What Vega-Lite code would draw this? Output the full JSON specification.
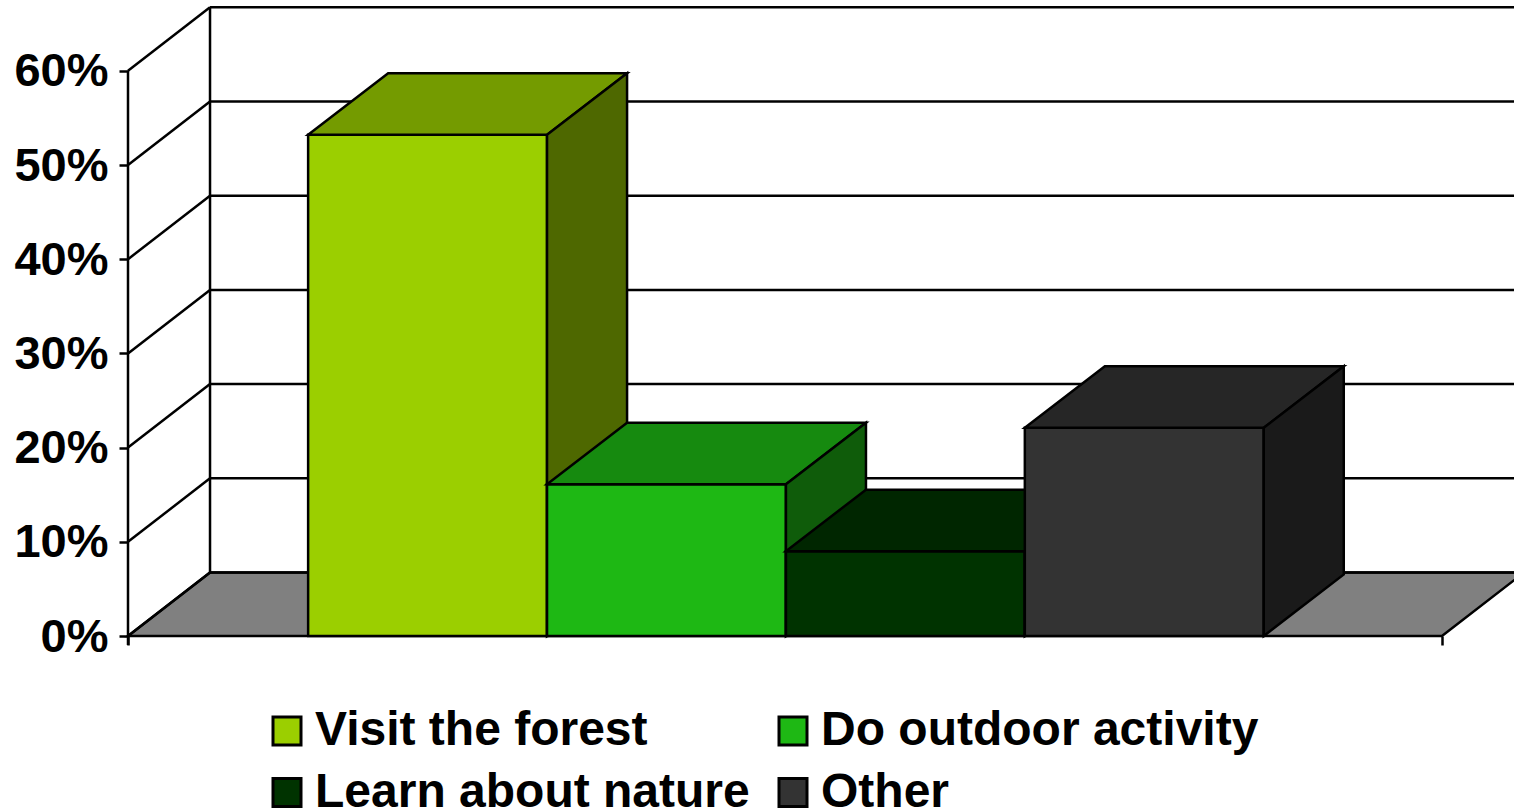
{
  "$schema": "https://vega.github.io/schema/vega-lite/v6.json",
  "width": 1514,
  "height": 809,
  "padding": 0,
  "autosize": {"type": "none"},
  "background": "white",
  "config": {
    "view": {"stroke": null},
    "font": "Liberation Sans"
  },
  "datasets": {
    "bars": [
      {"category": "Visit the forest", "value": 53.2},
      {"category": "Do outdoor activity", "value": 16.1},
      {"category": "Learn about nature", "value": 9.0},
      {"category": "Other", "value": 22.1}
    ],
    "ticks": [
      {"percent": 0}, {"percent": 10}, {"percent": 20}, {"percent": 30},
      {"percent": 40}, {"percent": 50}, {"percent": 60}
    ]
  },
  "layer": [
    {
      "data": {"name": "ticks"},
      "transform": [
        {"filter": "datum.percent === 0"},
        {"calculate": "[0, 5.5, 5.8433, 0.3433]", "as": "vx"},
        {"calculate": "[0, 0, 6.74, 6.74]", "as": "vy"},
        {"calculate": "[0, 1, 2, 3]", "as": "vi"},
        {"flatten": ["vx", "vy", "vi"]}
      ],
      "mark": {"type": "line", "interpolate": "linear-closed", "fill": "#808080", "stroke": "black", "strokeWidth": 2.5, "clip": true},
      "encoding": {
        "x": {
          "field": "vx", "type": "quantitative", "title": null,
          "scale": {"domain": [-0.5358, 5.8016], "nice": false, "zero": false},
          "axis": {"values": [0, 5.5], "labels": false, "domain": false, "grid": false, "tickSize": 9, "tickWidth": 2.5, "tickColor": "black", "offset": -173}
        },
        "y": {
          "field": "vy", "type": "quantitative", "title": null,
          "scale": {"domain": [-18.365, 67.516], "nice": false, "zero": false},
          "axis": {
            "values": [0, 10, 20, 30, 40, 50, 60],
            "labelExpr": "datum.value + '%'",
            "domain": false, "grid": false, "offset": -128,
            "tickSize": 9, "tickWidth": 2.5, "tickColor": "black",
            "labelFont": "Liberation Sans", "labelFontSize": 47, "labelFontWeight": "bold", "labelColor": "black",
            "labelPadding": 11, "labelOffset": 1, "labelOverlap": false, "labelBound": false, "labelFlush": false
          }
        },
        "order": {"field": "vi"}
      }
    },
    {
      "data": {"name": "ticks"},
      "transform": [
        {"calculate": "0", "as": "xa"},
        {"calculate": "0.3433", "as": "xb"},
        {"calculate": "datum.percent + 6.74", "as": "yb"}
      ],
      "mark": {"type": "rule", "stroke": "black", "strokeWidth": 2.5},
      "encoding": {
        "x": {"field": "xa", "type": "quantitative"},
        "x2": {"field": "xb"},
        "y": {"field": "percent", "type": "quantitative"},
        "y2": {"field": "yb"}
      }
    },
    {
      "data": {"name": "ticks"},
      "transform": [
        {"calculate": "0.3433", "as": "xa"},
        {"calculate": "5.8433", "as": "xb"},
        {"calculate": "datum.percent + 6.74", "as": "yb"}
      ],
      "mark": {"type": "rule", "stroke": "black", "strokeWidth": 2.5, "clip": true},
      "encoding": {
        "x": {"field": "xa", "type": "quantitative"},
        "x2": {"field": "xb"},
        "y": {"field": "yb", "type": "quantitative"}
      }
    },
    {
      "data": {"name": "ticks"},
      "transform": [
        {"filter": "datum.percent === 60"},
        {"calculate": "0.3433", "as": "xa"},
        {"calculate": "6.74", "as": "ya"},
        {"calculate": "66.74", "as": "yb"}
      ],
      "mark": {"type": "rule", "stroke": "black", "strokeWidth": 2.5},
      "encoding": {
        "x": {"field": "xa", "type": "quantitative"},
        "y": {"field": "ya", "type": "quantitative"},
        "y2": {"field": "yb"}
      }
    },
    {
      "data": {"name": "ticks"},
      "transform": [
        {"filter": "datum.percent === 60"},
        {"calculate": "0", "as": "xa"},
        {"calculate": "-0.96", "as": "ya"}
      ],
      "mark": {"type": "rule", "stroke": "black", "strokeWidth": 2.5},
      "encoding": {
        "x": {"field": "xa", "type": "quantitative"},
        "y": {"field": "ya", "type": "quantitative"},
        "y2": {"field": "percent"}
      }
    },
    {
      "data": {"name": "bars"},
      "transform": [
        {"window": [{"op": "row_number", "as": "slot"}]},
        {"calculate": "datum.slot - 0.246", "as": "x0"},
        {"calculate": "datum.x0 + 1", "as": "x1"},
        {"calculate": "['front', 'top', 'side']", "as": "face"},
        {"flatten": ["face"]},
        {"calculate": "datum.face === 'front' ? [datum.x0, datum.x1, datum.x1, datum.x0] : datum.face === 'top' ? [datum.x0, datum.x1, datum.x1 + 0.335, datum.x0 + 0.335] : [datum.x1, datum.x1 + 0.335, datum.x1 + 0.335, datum.x1]", "as": "vx"},
        {"calculate": "datum.face === 'front' ? [0, 0, datum.value, datum.value] : datum.face === 'top' ? [datum.value, datum.value, datum.value + 6.53, datum.value + 6.53] : [0, 6.53, datum.value + 6.53, datum.value]", "as": "vy"},
        {"calculate": "[0, 1, 2, 3]", "as": "vi"},
        {"flatten": ["vx", "vy", "vi"]},
        {"calculate": "datum.face === 'front' ? datum.category : datum.category + ' ' + datum.face", "as": "shade"}
      ],
      "mark": {"type": "line", "interpolate": "linear-closed", "stroke": "black", "strokeWidth": 2.5},
      "encoding": {
        "x": {"field": "vx", "type": "quantitative"},
        "y": {"field": "vy", "type": "quantitative"},
        "order": {"field": "vi"},
        "fill": {
          "field": "shade", "type": "nominal", "sort": null,
          "scale": {
            "domain": [
              "Visit the forest", "Do outdoor activity", "Learn about nature", "Other",
              "Visit the forest top", "Do outdoor activity top", "Learn about nature top", "Other top",
              "Visit the forest side", "Do outdoor activity side", "Learn about nature side", "Other side"
            ],
            "range": [
              "#9BCF00", "#1EB814", "#003300", "#333333",
              "#749B00", "#168A0F", "#002600", "#262626",
              "#4E6800", "#0F5C0A", "#001A00", "#1A1A1A"
            ]
          },
          "legend": {
            "values": ["Visit the forest", "Learn about nature", "Do outdoor activity", "Other"],
            "title": null,
            "orient": "none",
            "legendX": 263,
            "legendY": 707,
            "columns": 2,
            "columnPadding": 19,
            "rowPadding": 13.5,
            "symbolType": "square",
            "symbolSize": 784,
            "symbolStrokeColor": "black",
            "symbolStrokeWidth": 3,
            "symbolOpacity": 1,
            "labelFont": "Liberation Sans",
            "labelFontSize": 48,
            "labelFontWeight": "bold",
            "labelColor": "black",
            "labelOffset": 4,
            "labelLimit": 0
          }
        }
      }
    }
  ]
}
